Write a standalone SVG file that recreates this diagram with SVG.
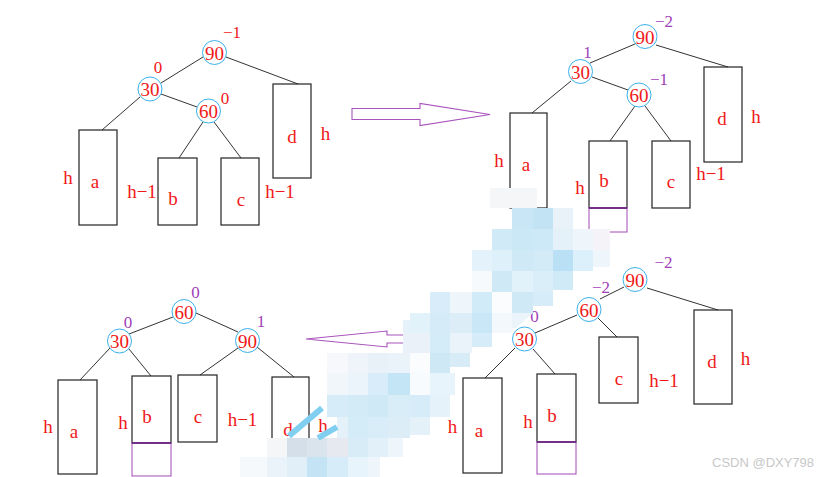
<svg xmlns="http://www.w3.org/2000/svg" width="833" height="477" viewBox="0 0 833 477">
<style>
.bg{fill:#fff}
.nd{fill:none;stroke:#3ab0ea;stroke-width:1}
.nt{font-family:"Liberation Serif",serif;font-size:19px;fill:#f01818;text-anchor:middle}
.lt{font-family:"Liberation Serif",serif;font-size:19px;fill:#f01818;text-anchor:middle}
.br{font-family:"Liberation Serif",serif;font-size:17px;fill:#f01818;text-anchor:middle}
.bp{font-family:"Liberation Serif",serif;font-size:17px;fill:#a040b8;text-anchor:middle}
.bx{fill:none;stroke:#222;stroke-width:1.2}
.pb{fill:none;stroke:#a448b8;stroke-width:1}
.ln{stroke:#333;stroke-width:1;fill:none}
.ar{fill:none;stroke:#a852bc;stroke-width:1.1}
.wm{font-family:"Liberation Sans",sans-serif;font-size:13px;fill:#c8c8c8}
</style>
<rect class="bg" x="0" y="0" width="833" height="477"/>

<!-- connectors -->
<g id="connectors">
  <!-- diagram 1 -->
  <line class="ln" x1="203" y1="57" x2="161" y2="83"/>
  <line class="ln" x1="226" y1="57" x2="298" y2="84"/>
  <line class="ln" x1="140" y1="97" x2="102" y2="130"/>
  <line class="ln" x1="161" y1="94" x2="197" y2="107"/>
  <line class="ln" x1="203" y1="122" x2="179" y2="158"/>
  <line class="ln" x1="214" y1="122" x2="241" y2="158"/>
  <!-- diagram 2 -->
  <line class="ln" x1="635" y1="44" x2="590" y2="63"/>
  <line class="ln" x1="656" y1="45" x2="728" y2="67"/>
  <line class="ln" x1="571" y1="81" x2="532" y2="113"/>
  <line class="ln" x1="592" y1="77" x2="628" y2="90"/>
  <line class="ln" x1="635" y1="106" x2="610" y2="141"/>
  <line class="ln" x1="645" y1="106" x2="671" y2="141"/>
  <!-- diagram 3 -->
  <line class="ln" x1="173" y1="317" x2="129" y2="334"/>
  <line class="ln" x1="196" y1="313" x2="238" y2="332"/>
  <line class="ln" x1="110" y1="348" x2="80" y2="380"/>
  <line class="ln" x1="129" y1="349" x2="151" y2="376"/>
  <line class="ln" x1="238" y1="348" x2="200" y2="375"/>
  <line class="ln" x1="257" y1="347" x2="294" y2="377"/>
  <!-- diagram 4 -->
  <line class="ln" x1="624" y1="287" x2="600" y2="299"/>
  <line class="ln" x1="647" y1="288" x2="718" y2="310"/>
  <line class="ln" x1="577" y1="315" x2="535" y2="333"/>
  <line class="ln" x1="598" y1="318" x2="617" y2="337"/>
  <line class="ln" x1="515" y1="348" x2="485" y2="378"/>
  <line class="ln" x1="533" y1="349" x2="555" y2="374"/>
  <!-- transition arrows -->
  <path class="ar" d="M352,108.5 L420,108.5 L420,103.5 L490,114.5 L420,125.5 L420,119.5 L352,119.5 Z"/>
  <path class="ar" d="M444,335 L387,335 L387,331 L306,339 L387,347 L387,343 L444,343 Z"/>
</g>

<!-- diagram 1 -->
<g id="d1-n90"><circle class="nd" cx="214.5" cy="52.5" r="12"/><text class="nt" x="214.5" y="59.5">90</text><text class="br" x="232" y="38">−1</text></g>
<g id="d1-n30"><circle class="nd" cx="150" cy="89" r="12"/><text class="nt" x="150" y="96">30</text><text class="br" x="158" y="73">0</text></g>
<g id="d1-n60"><circle class="nd" cx="208.5" cy="111" r="12"/><text class="nt" x="208.5" y="118">60</text><text class="br" x="225" y="104">0</text></g>
<g id="d1-a"><rect class="bx" x="79" y="130" width="38" height="95"/><text class="lt" x="95" y="188">a</text><text class="lt" x="68" y="184">h</text><text class="lt" x="142" y="198">h−1</text></g>
<g id="d1-b"><rect class="bx" x="158" y="158" width="39" height="67"/><text class="lt" x="173" y="205">b</text></g>
<g id="d1-c"><rect class="bx" x="221" y="158" width="38" height="67"/><text class="lt" x="241" y="206">c</text><text class="lt" x="280" y="198">h−1</text></g>
<g id="d1-d"><rect class="bx" x="273" y="84" width="38" height="94"/><text class="lt" x="292" y="143">d</text><text class="lt" x="325.5" y="140">h</text></g>

<!-- diagram 2 -->
<g id="d2-n90"><circle class="nd" cx="645" cy="36.5" r="12"/><text class="nt" x="645" y="43.5">90</text><text class="bp" x="664" y="27">−2</text></g>
<g id="d2-n30"><circle class="nd" cx="580.5" cy="71.5" r="12"/><text class="nt" x="580.5" y="78.5">30</text><text class="bp" x="587.5" y="58">1</text></g>
<g id="d2-n60"><circle class="nd" cx="639" cy="95" r="12"/><text class="nt" x="639" y="102">60</text><text class="bp" x="659" y="85">−1</text></g>
<g id="d2-a"><rect class="bx" x="510" y="113" width="37" height="95"/><text class="lt" x="526" y="171">a</text><text class="lt" x="499" y="167">h</text></g>
<g id="d2-b"><rect class="bx" x="589" y="141" width="38" height="67"/><rect class="pb" x="589" y="208" width="38" height="24"/><line x1="589" y1="208" x2="627" y2="208" stroke="#6a2080" stroke-width="1.4"/><text class="lt" x="604" y="187">b</text><text class="lt" x="580" y="194">h</text></g>
<g id="d2-c"><rect class="bx" x="652" y="141" width="38" height="67"/><text class="lt" x="671" y="188">c</text><text class="lt" x="711" y="180">h−1</text></g>
<g id="d2-d"><rect class="bx" x="704" y="67" width="38" height="95"/><text class="lt" x="722" y="125">d</text><text class="lt" x="756" y="123">h</text></g>

<!-- diagram 3 -->
<g id="d3-n60"><circle class="nd" cx="184" cy="311.5" r="12"/><text class="nt" x="184" y="318.5">60</text><text class="bp" x="195.5" y="298">0</text></g>
<g id="d3-n30"><circle class="nd" cx="119.5" cy="341" r="12"/><text class="nt" x="119.5" y="348">30</text><text class="bp" x="128" y="328">0</text></g>
<g id="d3-n90"><circle class="nd" cx="247.5" cy="340.5" r="12"/><text class="nt" x="247.5" y="347.5">90</text><text class="bp" x="261" y="327">1</text></g>
<g id="d3-a"><rect class="bx" x="58" y="380" width="39" height="94"/><text class="lt" x="74" y="438">a</text><text class="lt" x="48" y="433">h</text></g>
<g id="d3-b"><rect class="bx" x="132" y="376" width="39" height="67"/><rect class="pb" x="132" y="443" width="39" height="33"/><line x1="132" y1="443" x2="171" y2="443" stroke="#6a2080" stroke-width="1.4"/><text class="lt" x="147" y="423">b</text><text class="lt" x="123" y="429">h</text></g>
<g id="d3-c"><rect class="bx" x="178" y="375" width="39" height="67"/><text class="lt" x="198" y="423">c</text><text class="lt" x="242.5" y="426">h−1</text></g>
<g id="d3-d"><rect class="bx" x="272" y="377" width="37" height="95"/><text class="lt" x="288" y="436">d</text><text class="lt" x="323" y="432">h</text></g>

<!-- diagram 4 -->
<g id="d4-n90"><circle class="nd" cx="635" cy="279.5" r="12"/><text class="nt" x="635" y="286.5">90</text><text class="bp" x="663.5" y="268">−2</text></g>
<g id="d4-n60"><circle class="nd" cx="589" cy="309.5" r="12"/><text class="nt" x="589" y="316.5">60</text><text class="bp" x="601" y="293">−2</text></g>
<g id="d4-n30"><circle class="nd" cx="524.5" cy="339" r="12"/><text class="nt" x="524.5" y="346">30</text><text class="bp" x="534.5" y="322">0</text></g>
<g id="d4-a"><rect class="bx" x="463" y="378" width="39" height="95"/><text class="lt" x="479" y="437">a</text><text class="lt" x="452.5" y="433">h</text></g>
<g id="d4-b"><rect class="bx" x="537" y="374" width="39" height="68"/><rect class="pb" x="537" y="442" width="39" height="32"/><line x1="537" y1="442" x2="576" y2="442" stroke="#6a2080" stroke-width="1.4"/><text class="lt" x="552" y="422">b</text><text class="lt" x="528" y="428">h</text></g>
<g id="d4-c"><rect class="bx" x="599" y="337" width="39" height="66"/><text class="lt" x="619" y="385">c</text><text class="lt" x="664" y="387">h−1</text></g>
<g id="d4-d"><rect class="bx" x="694" y="310" width="38" height="94"/><text class="lt" x="712" y="368">d</text><text class="lt" x="745.5" y="365">h</text></g>

<!-- mosaic overlay -->
<g id="mosaic">
  <rect x="490" y="188" width="47" height="20" fill="#f4f6f7"/>
  <rect x="512" y="208" width="21" height="21" fill="#c8e6f5"/>
  <rect x="533" y="208" width="20" height="21" fill="#c2e3f4"/>
  <rect x="553" y="208" width="20" height="21" fill="#e8f2f8"/>
  <rect x="492" y="229" width="20" height="21" fill="#d0eaf7"/>
  <rect x="512" y="229" width="21" height="21" fill="#cbe8f6"/>
  <rect x="533" y="229" width="20" height="21" fill="#cde8f6"/>
  <rect x="553" y="229" width="20" height="21" fill="#e4f1f9"/>
  <rect x="573" y="229" width="20" height="21" fill="#eef6fb"/>
  <rect x="593" y="229" width="17" height="21" fill="#f5f3f7"/>
  <rect x="472" y="250" width="20" height="21" fill="#e3f2fb"/>
  <rect x="492" y="250" width="20" height="21" fill="#def0fa"/>
  <rect x="512" y="250" width="21" height="21" fill="#d0e9f6"/>
  <rect x="533" y="250" width="20" height="21" fill="#d2ebf7"/>
  <rect x="553" y="250" width="20" height="21" fill="#b9e0f5"/>
  <rect x="573" y="250" width="20" height="21" fill="#dcf0fb"/>
  <rect x="593" y="250" width="17" height="17" fill="#eef6fb"/>
  <rect x="472" y="271" width="20" height="21" fill="#f7fafc"/>
  <rect x="492" y="271" width="20" height="21" fill="#cfe9f7"/>
  <rect x="512" y="271" width="21" height="21" fill="#e2f2fb"/>
  <rect x="533" y="271" width="20" height="21" fill="#daeef9"/>
  <rect x="553" y="271" width="20" height="19" fill="#d0eaf7"/>
  <rect x="430" y="292" width="20" height="21" fill="#d8edf9"/>
  <rect x="450" y="292" width="22" height="21" fill="#eef6fb"/>
  <rect x="472" y="292" width="20" height="21" fill="#d2ebf8"/>
  <rect x="492" y="292" width="20" height="21" fill="#fafcfe"/>
  <rect x="512" y="292" width="21" height="21" fill="#d0e9f6"/>
  <rect x="533" y="292" width="20" height="14" fill="#d6ecf8"/>
  <rect x="410" y="313" width="20" height="20" fill="#e2f2fb"/>
  <rect x="430" y="313" width="20" height="20" fill="#d5ecf8"/>
  <rect x="450" y="313" width="22" height="20" fill="#dcedf8"/>
  <rect x="472" y="313" width="20" height="20" fill="#c9e7f6"/>
  <rect x="492" y="313" width="20" height="20" fill="#f3f8fc"/>
  <polygon points="512,313 533,313 516,328 512,328" fill="#eaf4fa"/>
  <rect x="403" y="333" width="27" height="20" fill="#eaf1f8"/>
  <rect x="430" y="333" width="20" height="20" fill="#d4ebf8"/>
  <rect x="450" y="333" width="22" height="20" fill="#e9f3f9"/>
  <rect x="472" y="333" width="20" height="14" fill="#d6ecf8"/>
  <rect x="403" y="320" width="7" height="13" fill="#e6f2fa"/>
  <rect x="327" y="353" width="21" height="20" fill="#f6f8fb"/>
  <rect x="348" y="353" width="20" height="20" fill="#eef4f9"/>
  <rect x="368" y="353" width="20" height="20" fill="#e8f1f8"/>
  <rect x="388" y="353" width="22" height="20" fill="#eaf3f9"/>
  <rect x="410" y="353" width="20" height="20" fill="#fbfcfd"/>
  <rect x="430" y="353" width="20" height="20" fill="#cfe8f6"/>
  <rect x="450" y="353" width="20" height="14" fill="#d8ecf8"/>
  <rect x="327" y="373" width="21" height="22" fill="#f0f6fa"/>
  <rect x="348" y="373" width="20" height="22" fill="#eaf4fa"/>
  <rect x="368" y="373" width="20" height="22" fill="#d8edf9"/>
  <rect x="388" y="373" width="22" height="22" fill="#c4e5f6"/>
  <rect x="410" y="373" width="20" height="22" fill="#f8fbfd"/>
  <rect x="430" y="373" width="25" height="22" fill="#e8f4fb"/>
  <rect x="327" y="395" width="21" height="22" fill="#d6ecf8"/>
  <rect x="348" y="395" width="20" height="22" fill="#d3eaf7"/>
  <rect x="368" y="395" width="20" height="22" fill="#d0e9f6"/>
  <rect x="388" y="395" width="22" height="22" fill="#d9edf8"/>
  <rect x="410" y="395" width="20" height="22" fill="#d6ecf8"/>
  <rect x="430" y="395" width="20" height="22" fill="#e6f2fa"/>
  <rect x="337" y="417" width="11" height="21" fill="#e4f1f9"/>
  <rect x="348" y="417" width="20" height="21" fill="#d4ebf8"/>
  <rect x="368" y="417" width="20" height="21" fill="#d9edf8"/>
  <rect x="388" y="417" width="22" height="21" fill="#dcedf8"/>
  <rect x="410" y="417" width="20" height="18" fill="#e4f1f9"/>
  <rect x="267" y="438" width="20" height="19" fill="#f4f6f8"/>
  <rect x="287" y="438" width="20" height="19" fill="#d4dfe9"/>
  <rect x="307" y="438" width="20" height="19" fill="#d9e4ec"/>
  <rect x="327" y="438" width="21" height="19" fill="#e6e9f0"/>
  <rect x="348" y="438" width="20" height="19" fill="#d8ecf8"/>
  <rect x="368" y="438" width="20" height="19" fill="#e2f0f9"/>
  <rect x="388" y="438" width="15" height="19" fill="#eef6fb"/>
  <rect x="240" y="457" width="27" height="20" fill="#f6f9fb"/>
  <rect x="267" y="457" width="20" height="20" fill="#eaf3f9"/>
  <rect x="287" y="457" width="20" height="20" fill="#e0eff8"/>
  <rect x="307" y="457" width="20" height="20" fill="#c4e4f5"/>
  <rect x="327" y="457" width="21" height="20" fill="#d6ecf8"/>
  <rect x="348" y="457" width="20" height="20" fill="#e8f4fb"/>
  <rect x="368" y="457" width="12" height="20" fill="#eef6fb"/>
  <line x1="289" y1="436" x2="322" y2="408" stroke="#80cff0" stroke-width="6"/>
  <line x1="318" y1="438" x2="337" y2="427" stroke="#80cff0" stroke-width="6"/>
</g>

<text class="wm" x="712" y="467">CSDN @DXY798</text>
</svg>
